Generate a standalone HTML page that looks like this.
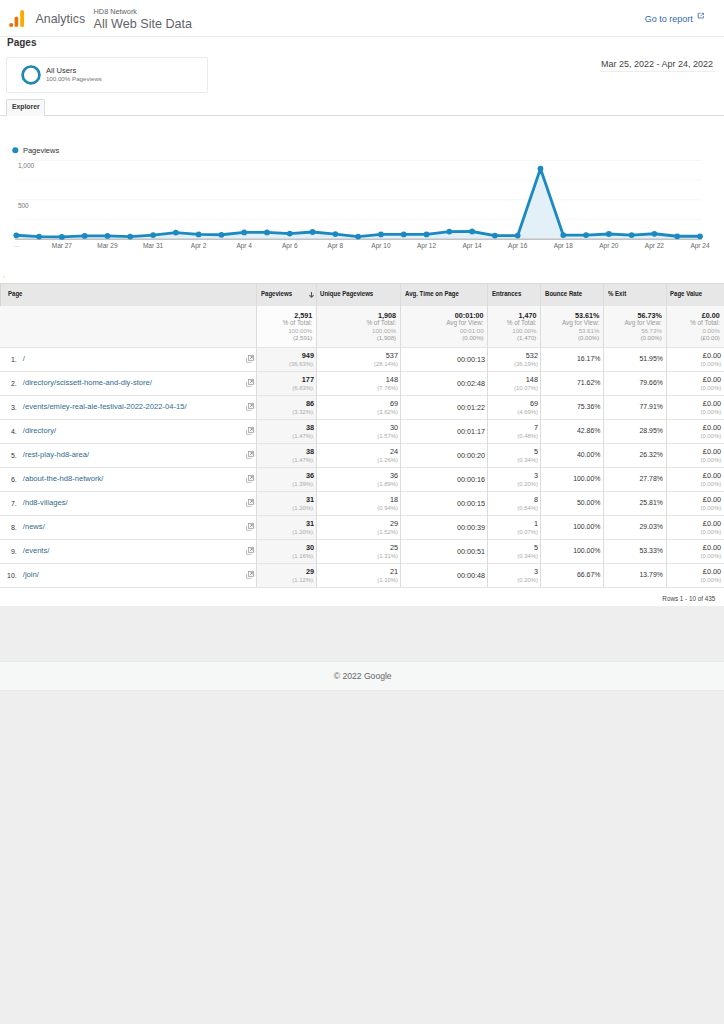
<!DOCTYPE html><html><head><meta charset="utf-8"><title>Analytics</title><style>
*{margin:0;padding:0;box-sizing:border-box}
html,body{width:724px;height:1024px;overflow:hidden;background:#eeeeee;font-family:"Liberation Sans",sans-serif;color:#333}
.t{position:absolute;white-space:nowrap;line-height:1}
.r{position:absolute}
</style></head><body>
<div class="r" style="left:0;top:0;width:724px;height:606px;background:#fff"></div>
<div class="r" style="left:0;top:36px;width:724px;height:1px;background:#e9e9e9"></div>
<svg class="r" style="left:0;top:0" width="30" height="30" viewBox="0 0 30 30">
<circle cx="11.2" cy="25" r="2.1" fill="#e8710a"/>
<rect x="14.6" y="16.4" width="3.6" height="10.7" rx="1.8" fill="#e8710a"/>
<rect x="20.2" y="10" width="3.9" height="17.1" rx="1.95" fill="#f9ab00"/>
</svg>
<div class="t" style="left:35.50px;top:13.10px;font-size:12.4px;color:#5f6368;">Analytics</div>
<div class="t" style="left:93.60px;top:7.82px;font-size:7.3px;color:#5f6368;">HD8 Network</div>
<div class="t" style="left:93.60px;top:17.53px;font-size:12.6px;color:#5f6368;">All Web Site Data</div>
<div class="t" style="left:644.70px;top:14.68px;font-size:9px;color:#3569ab;">Go to report</div>
<svg class="r" style="left:697px;top:12px" width="8" height="7" viewBox="0 0 8 7">
<path d="M1.5 1.2 H3.5 M1.2 1.2 V6 H6.3 V4" stroke="#4a76ad" stroke-width="0.9" fill="none"/>
<path d="M4.5 1.2 H6.5 V3.2 M6.5 1.2 L3.5 4.2" stroke="#4a76ad" stroke-width="0.8" fill="none"/>
</svg>
<div class="t" style="left:7.00px;top:38.44px;font-size:10px;color:#333;font-weight:bold;">Pages</div>
<div class="r" style="left:6px;top:57px;width:201.5px;height:36px;border:1px solid #ebebeb;border-radius:2px;background:#fff"></div>
<svg class="r" style="left:20px;top:64px" width="22" height="22" viewBox="0 0 22 22"><circle cx="11" cy="10.9" r="8.4" stroke="#1f86b5" stroke-width="2.7" fill="none"/></svg>
<div class="t" style="left:45.90px;top:66.77px;font-size:7.6px;color:#333;">All Users</div>
<div class="t" style="left:45.90px;top:76.25px;font-size:6.2px;color:#777;">100.00% Pageviews</div>
<div class="t" style="left:600.90px;top:60.28px;font-size:9px;color:#444;">Mar 25, 2022 - Apr 24, 2022</div>
<div class="r" style="left:600px;top:70.5px;width:115px;height:1px;background:#eeeeee"></div>
<div class="r" style="left:0;top:115px;width:724px;height:1px;background:#dcdcdc"></div>
<div class="r" style="left:6px;top:98.5px;width:39px;height:17.5px;border:1px solid #dcdcdc;border-bottom:none;background:#f8f8f8;border-radius:2px 2px 0 0"></div>
<div class="t" style="left:12.00px;top:104.24px;font-size:6.8px;color:#333;font-weight:bold;">Explorer</div>
<svg class="r" style="left:0;top:0" width="724" height="283" viewBox="0 0 724 283"><line x1="16" y1="160.4" x2="702" y2="160.4" stroke="#f6f6f6" stroke-width="1"/><line x1="16" y1="180.1" x2="702" y2="180.1" stroke="#f6f6f6" stroke-width="1"/><line x1="16" y1="199.8" x2="702" y2="199.8" stroke="#f6f6f6" stroke-width="1"/><line x1="16" y1="219.5" x2="702" y2="219.5" stroke="#f6f6f6" stroke-width="1"/><polygon points="16.30,239.2 16.30,235.30 39.09,236.60 61.88,236.90 84.67,235.90 107.46,235.90 130.25,236.60 153.04,235.10 175.83,232.60 198.62,234.40 221.41,234.80 244.20,232.40 266.99,232.40 289.78,233.60 312.57,232.00 335.36,234.10 358.15,236.60 380.94,234.40 403.73,234.40 426.52,234.40 449.31,231.60 472.10,231.50 494.89,235.60 517.68,235.60 540.47,168.60 563.26,235.10 586.05,235.10 608.84,234.00 631.63,235.10 654.42,233.80 677.21,236.30 700.00,236.30 700.00,239.2" fill="#e3f0f7"/><line x1="15" y1="239.2" x2="702" y2="239.2" stroke="#a8a8a8" stroke-width="1"/><polyline points="16.30,235.30 39.09,236.60 61.88,236.90 84.67,235.90 107.46,235.90 130.25,236.60 153.04,235.10 175.83,232.60 198.62,234.40 221.41,234.80 244.20,232.40 266.99,232.40 289.78,233.60 312.57,232.00 335.36,234.10 358.15,236.60 380.94,234.40 403.73,234.40 426.52,234.40 449.31,231.60 472.10,231.50 494.89,235.60 517.68,235.60 540.47,168.60 563.26,235.10 586.05,235.10 608.84,234.00 631.63,235.10 654.42,233.80 677.21,236.30 700.00,236.30" fill="none" stroke="#1b8ac0" stroke-width="2.9" stroke-linejoin="round"/><circle cx="16.30" cy="235.30" r="2.9" fill="#1b8ac0"/><circle cx="39.09" cy="236.60" r="2.9" fill="#1b8ac0"/><circle cx="61.88" cy="236.90" r="2.9" fill="#1b8ac0"/><circle cx="84.67" cy="235.90" r="2.9" fill="#1b8ac0"/><circle cx="107.46" cy="235.90" r="2.9" fill="#1b8ac0"/><circle cx="130.25" cy="236.60" r="2.9" fill="#1b8ac0"/><circle cx="153.04" cy="235.10" r="2.9" fill="#1b8ac0"/><circle cx="175.83" cy="232.60" r="2.9" fill="#1b8ac0"/><circle cx="198.62" cy="234.40" r="2.9" fill="#1b8ac0"/><circle cx="221.41" cy="234.80" r="2.9" fill="#1b8ac0"/><circle cx="244.20" cy="232.40" r="2.9" fill="#1b8ac0"/><circle cx="266.99" cy="232.40" r="2.9" fill="#1b8ac0"/><circle cx="289.78" cy="233.60" r="2.9" fill="#1b8ac0"/><circle cx="312.57" cy="232.00" r="2.9" fill="#1b8ac0"/><circle cx="335.36" cy="234.10" r="2.9" fill="#1b8ac0"/><circle cx="358.15" cy="236.60" r="2.9" fill="#1b8ac0"/><circle cx="380.94" cy="234.40" r="2.9" fill="#1b8ac0"/><circle cx="403.73" cy="234.40" r="2.9" fill="#1b8ac0"/><circle cx="426.52" cy="234.40" r="2.9" fill="#1b8ac0"/><circle cx="449.31" cy="231.60" r="2.9" fill="#1b8ac0"/><circle cx="472.10" cy="231.50" r="2.9" fill="#1b8ac0"/><circle cx="494.89" cy="235.60" r="2.9" fill="#1b8ac0"/><circle cx="517.68" cy="235.60" r="2.9" fill="#1b8ac0"/><circle cx="540.47" cy="168.60" r="2.9" fill="#1b8ac0"/><circle cx="563.26" cy="235.10" r="2.9" fill="#1b8ac0"/><circle cx="586.05" cy="235.10" r="2.9" fill="#1b8ac0"/><circle cx="608.84" cy="234.00" r="2.9" fill="#1b8ac0"/><circle cx="631.63" cy="235.10" r="2.9" fill="#1b8ac0"/><circle cx="654.42" cy="233.80" r="2.9" fill="#1b8ac0"/><circle cx="677.21" cy="236.30" r="2.9" fill="#1b8ac0"/><circle cx="700.00" cy="236.30" r="2.9" fill="#1b8ac0"/><circle cx="15.3" cy="150.2" r="3" fill="#1b8ac0"/><circle cx="4" cy="277" r="1" fill="#f5e6a0"/></svg>
<div class="t" style="left:22.90px;top:146.85px;font-size:7.5px;color:#333;">Pageviews</div>
<div class="t" style="left:17.90px;top:163.10px;font-size:6.5px;color:#777;">1,000</div>
<div class="t" style="left:17.90px;top:202.70px;font-size:6.5px;color:#777;">500</div>
<div class="t" style="left:21.88px;width:80px;text-align:center;top:242.50px;font-size:6.5px;color:#666">Mar 27</div>
<div class="t" style="left:67.46px;width:80px;text-align:center;top:242.50px;font-size:6.5px;color:#666">Mar 29</div>
<div class="t" style="left:113.04px;width:80px;text-align:center;top:242.50px;font-size:6.5px;color:#666">Mar 31</div>
<div class="t" style="left:158.62px;width:80px;text-align:center;top:242.50px;font-size:6.5px;color:#666">Apr 2</div>
<div class="t" style="left:204.20px;width:80px;text-align:center;top:242.50px;font-size:6.5px;color:#666">Apr 4</div>
<div class="t" style="left:249.78px;width:80px;text-align:center;top:242.50px;font-size:6.5px;color:#666">Apr 6</div>
<div class="t" style="left:295.36px;width:80px;text-align:center;top:242.50px;font-size:6.5px;color:#666">Apr 8</div>
<div class="t" style="left:340.94px;width:80px;text-align:center;top:242.50px;font-size:6.5px;color:#666">Apr 10</div>
<div class="t" style="left:386.52px;width:80px;text-align:center;top:242.50px;font-size:6.5px;color:#666">Apr 12</div>
<div class="t" style="left:432.10px;width:80px;text-align:center;top:242.50px;font-size:6.5px;color:#666">Apr 14</div>
<div class="t" style="left:477.68px;width:80px;text-align:center;top:242.50px;font-size:6.5px;color:#666">Apr 16</div>
<div class="t" style="left:523.26px;width:80px;text-align:center;top:242.50px;font-size:6.5px;color:#666">Apr 18</div>
<div class="t" style="left:568.84px;width:80px;text-align:center;top:242.50px;font-size:6.5px;color:#666">Apr 20</div>
<div class="t" style="left:614.42px;width:80px;text-align:center;top:242.50px;font-size:6.5px;color:#666">Apr 22</div>
<div class="t" style="left:660.00px;width:80px;text-align:center;top:242.50px;font-size:6.5px;color:#666">Apr 24</div>
<div class="t" style="left:14.00px;top:242.00px;font-size:6.5px;color:#aaa;">...</div>
<div class="r" style="left:0;top:283.0px;width:724px;height:22.80000000000001px;background:#e7e7e7;border-top:1px solid #d9d9d9"></div>
<div class="r" style="left:0;top:305.8px;width:724px;height:41.80000000000001px;background:#f7f7f7"></div>
<div class="r" style="left:256.7px;top:305.8px;width:59.69999999999999px;height:41.80000000000001px;background:#fcfcfc"></div>
<div class="r" style="left:256.7px;top:347.6px;width:59.69999999999999px;height:239.8px;background:#f6f6f6"></div>
<div class="r" style="left:0;top:347.10px;width:724px;height:1px;background:#e4e4e4"></div>
<div class="r" style="left:0;top:371.08px;width:724px;height:1px;background:#e4e4e4"></div>
<div class="r" style="left:0;top:395.06px;width:724px;height:1px;background:#e4e4e4"></div>
<div class="r" style="left:0;top:419.04px;width:724px;height:1px;background:#e4e4e4"></div>
<div class="r" style="left:0;top:443.02px;width:724px;height:1px;background:#e4e4e4"></div>
<div class="r" style="left:0;top:467.00px;width:724px;height:1px;background:#e4e4e4"></div>
<div class="r" style="left:0;top:490.98px;width:724px;height:1px;background:#e4e4e4"></div>
<div class="r" style="left:0;top:514.96px;width:724px;height:1px;background:#e4e4e4"></div>
<div class="r" style="left:0;top:538.94px;width:724px;height:1px;background:#e4e4e4"></div>
<div class="r" style="left:0;top:562.92px;width:724px;height:1px;background:#e4e4e4"></div>
<div class="r" style="left:0;top:586.90px;width:724px;height:1px;background:#e4e4e4"></div>
<div class="r" style="left:256.20px;top:283.0px;width:1px;height:304.40px;background:#dcdcdc"></div>
<div class="r" style="left:315.90px;top:283.0px;width:1px;height:304.40px;background:#dcdcdc"></div>
<div class="r" style="left:399.80px;top:283.0px;width:1px;height:304.40px;background:#dcdcdc"></div>
<div class="r" style="left:487.30px;top:283.0px;width:1px;height:304.40px;background:#dcdcdc"></div>
<div class="r" style="left:540.10px;top:283.0px;width:1px;height:304.40px;background:#dcdcdc"></div>
<div class="r" style="left:603.00px;top:283.0px;width:1px;height:304.40px;background:#dcdcdc"></div>
<div class="r" style="left:665.50px;top:283.0px;width:1px;height:304.40px;background:#dcdcdc"></div>
<div class="r" style="left:0;top:283.0px;width:1px;height:22.80000000000001px;background:#d5d5d5"></div>
<div class="t" style="left:7.6px;top:291.06px;font-size:6.9px;font-weight:bold;color:#222;transform:scaleX(0.88);transform-origin:0 0">Page</div>
<div class="t" style="left:260.6px;top:291.06px;font-size:6.9px;font-weight:bold;color:#222;transform:scaleX(0.88);transform-origin:0 0">Pageviews</div>
<div class="t" style="left:320px;top:291.06px;font-size:6.9px;font-weight:bold;color:#222;transform:scaleX(0.88);transform-origin:0 0">Unique Pageviews</div>
<div class="t" style="left:404.9px;top:291.06px;font-size:6.9px;font-weight:bold;color:#222;transform:scaleX(0.88);transform-origin:0 0">Avg. Time on Page</div>
<div class="t" style="left:492px;top:291.06px;font-size:6.9px;font-weight:bold;color:#222;transform:scaleX(0.88);transform-origin:0 0">Entrances</div>
<div class="t" style="left:544.6px;top:291.06px;font-size:6.9px;font-weight:bold;color:#222;transform:scaleX(0.88);transform-origin:0 0">Bounce Rate</div>
<div class="t" style="left:608.1px;top:291.06px;font-size:6.9px;font-weight:bold;color:#222;transform:scaleX(0.88);transform-origin:0 0">% Exit</div>
<div class="t" style="left:669.6px;top:291.06px;font-size:6.9px;font-weight:bold;color:#222;transform:scaleX(0.88);transform-origin:0 0">Page Value</div>
<svg class="r" style="left:308px;top:290px" width="7" height="9" viewBox="0 0 7 9"><path d="M3.5 2 V7.4 M1.4 5.1 L3.5 7.3 L5.6 5.1" stroke="#555" stroke-width="1.1" fill="none"/></svg>
<div class="t" style="right:411.80px;top:311.71px;font-size:7.2px;color:#222;font-weight:bold;">2,591</div>
<div class="t" style="right:411.80px;top:320.28px;font-size:6.4px;color:#999;">% of Total:</div>
<div class="t" style="right:411.80px;top:328.04px;font-size:6.1px;color:#aaa;">100.00%</div>
<div class="t" style="right:411.80px;top:334.64px;font-size:6.1px;color:#999;">(2,591)</div>
<div class="t" style="right:327.90px;top:311.71px;font-size:7.2px;color:#222;font-weight:bold;">1,908</div>
<div class="t" style="right:327.90px;top:320.28px;font-size:6.4px;color:#999;">% of Total:</div>
<div class="t" style="right:327.90px;top:328.04px;font-size:6.1px;color:#aaa;">100.00%</div>
<div class="t" style="right:327.90px;top:334.64px;font-size:6.1px;color:#999;">(1,908)</div>
<div class="t" style="right:240.40px;top:311.71px;font-size:7.2px;color:#222;font-weight:bold;">00:01:00</div>
<div class="t" style="right:240.40px;top:320.28px;font-size:6.4px;color:#999;">Avg for View:</div>
<div class="t" style="right:240.40px;top:328.04px;font-size:6.1px;color:#aaa;">00:01:00</div>
<div class="t" style="right:240.40px;top:334.64px;font-size:6.1px;color:#999;">(0.00%)</div>
<div class="t" style="right:187.60px;top:311.71px;font-size:7.2px;color:#222;font-weight:bold;">1,470</div>
<div class="t" style="right:187.60px;top:320.28px;font-size:6.4px;color:#999;">% of Total:</div>
<div class="t" style="right:187.60px;top:328.04px;font-size:6.1px;color:#aaa;">100.00%</div>
<div class="t" style="right:187.60px;top:334.64px;font-size:6.1px;color:#999;">(1,470)</div>
<div class="t" style="right:124.70px;top:311.71px;font-size:7.2px;color:#222;font-weight:bold;">53.61%</div>
<div class="t" style="right:124.70px;top:320.28px;font-size:6.4px;color:#999;">Avg for View:</div>
<div class="t" style="right:124.70px;top:328.04px;font-size:6.1px;color:#aaa;">53.61%</div>
<div class="t" style="right:124.70px;top:334.64px;font-size:6.1px;color:#999;">(0.00%)</div>
<div class="t" style="right:62.20px;top:311.71px;font-size:7.2px;color:#222;font-weight:bold;">56.73%</div>
<div class="t" style="right:62.20px;top:320.28px;font-size:6.4px;color:#999;">Avg for View:</div>
<div class="t" style="right:62.20px;top:328.04px;font-size:6.1px;color:#aaa;">56.73%</div>
<div class="t" style="right:62.20px;top:334.64px;font-size:6.1px;color:#999;">(0.00%)</div>
<div class="t" style="right:4.20px;top:311.71px;font-size:7.2px;color:#222;font-weight:bold;">£0.00</div>
<div class="t" style="right:4.20px;top:320.28px;font-size:6.4px;color:#999;">% of Total:</div>
<div class="t" style="right:4.20px;top:328.04px;font-size:6.1px;color:#aaa;">0.00%</div>
<div class="t" style="right:4.20px;top:334.64px;font-size:6.1px;color:#999;">(£0.00)</div>
<div class="t" style="right:707.20px;top:355.77px;font-size:7px;color:#333;">1.</div>
<div class="t" style="left:22.80px;top:355.27px;font-size:7.6px;color:#306a8e;">/</div>
<svg class="r" style="left:246.3px;top:355.20px" width="8" height="8" viewBox="0 0 8 8"><path d="M0.6 2.6 V7.4 H5.4" stroke="#b0b0b0" stroke-width="0.8" fill="none"/><rect x="2.4" y="0.5" width="5" height="5" stroke="#a0a0a0" stroke-width="0.8" fill="#fff"/><path d="M3.8 4.2 L6.3 1.6 M4.4 1.6 H6.3 V3.5" stroke="#888" stroke-width="0.8" fill="none"/></svg>
<div class="t" style="right:410.00px;top:352.22px;font-size:7.3px;color:#222;font-weight:bold;">949</div>
<div class="t" style="right:411.10px;top:361.81px;font-size:5.9px;color:#aaa;">(36.63%)</div>
<div class="t" style="right:326.00px;top:352.22px;font-size:7.3px;color:#333;">537</div>
<div class="t" style="right:326.10px;top:361.81px;font-size:5.9px;color:#aaa;">(28.14%)</div>
<div class="t" style="right:239.00px;top:355.71px;font-size:7.2px;color:#333;">00:00:13</div>
<div class="t" style="right:186.00px;top:352.22px;font-size:7.3px;color:#333;">532</div>
<div class="t" style="right:186.00px;top:361.81px;font-size:5.9px;color:#aaa;">(36.19%)</div>
<div class="t" style="right:123.60px;top:355.96px;font-size:6.9px;color:#333;">16.17%</div>
<div class="t" style="right:61.10px;top:355.96px;font-size:6.9px;color:#333;">51.95%</div>
<div class="t" style="right:2.90px;top:352.22px;font-size:7.3px;color:#333;">£0.00</div>
<div class="t" style="right:2.90px;top:361.81px;font-size:5.9px;color:#aaa;">(0.00%)</div>
<div class="t" style="right:707.20px;top:379.75px;font-size:7px;color:#333;">2.</div>
<div class="t" style="left:22.80px;top:379.25px;font-size:7.6px;color:#306a8e;">/directory/scissett-home-and-diy-store/</div>
<svg class="r" style="left:246.3px;top:379.18px" width="8" height="8" viewBox="0 0 8 8"><path d="M0.6 2.6 V7.4 H5.4" stroke="#b0b0b0" stroke-width="0.8" fill="none"/><rect x="2.4" y="0.5" width="5" height="5" stroke="#a0a0a0" stroke-width="0.8" fill="#fff"/><path d="M3.8 4.2 L6.3 1.6 M4.4 1.6 H6.3 V3.5" stroke="#888" stroke-width="0.8" fill="none"/></svg>
<div class="t" style="right:410.00px;top:376.20px;font-size:7.3px;color:#222;font-weight:bold;">177</div>
<div class="t" style="right:411.10px;top:385.79px;font-size:5.9px;color:#aaa;">(6.83%)</div>
<div class="t" style="right:326.00px;top:376.20px;font-size:7.3px;color:#333;">148</div>
<div class="t" style="right:326.10px;top:385.79px;font-size:5.9px;color:#aaa;">(7.76%)</div>
<div class="t" style="right:239.00px;top:379.69px;font-size:7.2px;color:#333;">00:02:48</div>
<div class="t" style="right:186.00px;top:376.20px;font-size:7.3px;color:#333;">148</div>
<div class="t" style="right:186.00px;top:385.79px;font-size:5.9px;color:#aaa;">(10.07%)</div>
<div class="t" style="right:123.60px;top:379.94px;font-size:6.9px;color:#333;">71.62%</div>
<div class="t" style="right:61.10px;top:379.94px;font-size:6.9px;color:#333;">79.66%</div>
<div class="t" style="right:2.90px;top:376.20px;font-size:7.3px;color:#333;">£0.00</div>
<div class="t" style="right:2.90px;top:385.79px;font-size:5.9px;color:#aaa;">(0.00%)</div>
<div class="t" style="right:707.20px;top:403.73px;font-size:7px;color:#333;">3.</div>
<div class="t" style="left:22.80px;top:403.23px;font-size:7.6px;color:#306a8e;">/events/emley-real-ale-festival-2022-2022-04-15/</div>
<svg class="r" style="left:246.3px;top:403.16px" width="8" height="8" viewBox="0 0 8 8"><path d="M0.6 2.6 V7.4 H5.4" stroke="#b0b0b0" stroke-width="0.8" fill="none"/><rect x="2.4" y="0.5" width="5" height="5" stroke="#a0a0a0" stroke-width="0.8" fill="#fff"/><path d="M3.8 4.2 L6.3 1.6 M4.4 1.6 H6.3 V3.5" stroke="#888" stroke-width="0.8" fill="none"/></svg>
<div class="t" style="right:410.00px;top:400.18px;font-size:7.3px;color:#222;font-weight:bold;">86</div>
<div class="t" style="right:411.10px;top:409.77px;font-size:5.9px;color:#aaa;">(3.32%)</div>
<div class="t" style="right:326.00px;top:400.18px;font-size:7.3px;color:#333;">69</div>
<div class="t" style="right:326.10px;top:409.77px;font-size:5.9px;color:#aaa;">(3.62%)</div>
<div class="t" style="right:239.00px;top:403.67px;font-size:7.2px;color:#333;">00:01:22</div>
<div class="t" style="right:186.00px;top:400.18px;font-size:7.3px;color:#333;">69</div>
<div class="t" style="right:186.00px;top:409.77px;font-size:5.9px;color:#aaa;">(4.69%)</div>
<div class="t" style="right:123.60px;top:403.92px;font-size:6.9px;color:#333;">75.36%</div>
<div class="t" style="right:61.10px;top:403.92px;font-size:6.9px;color:#333;">77.91%</div>
<div class="t" style="right:2.90px;top:400.18px;font-size:7.3px;color:#333;">£0.00</div>
<div class="t" style="right:2.90px;top:409.77px;font-size:5.9px;color:#aaa;">(0.00%)</div>
<div class="t" style="right:707.20px;top:427.71px;font-size:7px;color:#333;">4.</div>
<div class="t" style="left:22.80px;top:427.21px;font-size:7.6px;color:#306a8e;">/directory/</div>
<svg class="r" style="left:246.3px;top:427.14px" width="8" height="8" viewBox="0 0 8 8"><path d="M0.6 2.6 V7.4 H5.4" stroke="#b0b0b0" stroke-width="0.8" fill="none"/><rect x="2.4" y="0.5" width="5" height="5" stroke="#a0a0a0" stroke-width="0.8" fill="#fff"/><path d="M3.8 4.2 L6.3 1.6 M4.4 1.6 H6.3 V3.5" stroke="#888" stroke-width="0.8" fill="none"/></svg>
<div class="t" style="right:410.00px;top:424.16px;font-size:7.3px;color:#222;font-weight:bold;">38</div>
<div class="t" style="right:411.10px;top:433.75px;font-size:5.9px;color:#aaa;">(1.47%)</div>
<div class="t" style="right:326.00px;top:424.16px;font-size:7.3px;color:#333;">30</div>
<div class="t" style="right:326.10px;top:433.75px;font-size:5.9px;color:#aaa;">(1.57%)</div>
<div class="t" style="right:239.00px;top:427.65px;font-size:7.2px;color:#333;">00:01:17</div>
<div class="t" style="right:186.00px;top:424.16px;font-size:7.3px;color:#333;">7</div>
<div class="t" style="right:186.00px;top:433.75px;font-size:5.9px;color:#aaa;">(0.48%)</div>
<div class="t" style="right:123.60px;top:427.90px;font-size:6.9px;color:#333;">42.86%</div>
<div class="t" style="right:61.10px;top:427.90px;font-size:6.9px;color:#333;">28.95%</div>
<div class="t" style="right:2.90px;top:424.16px;font-size:7.3px;color:#333;">£0.00</div>
<div class="t" style="right:2.90px;top:433.75px;font-size:5.9px;color:#aaa;">(0.00%)</div>
<div class="t" style="right:707.20px;top:451.69px;font-size:7px;color:#333;">5.</div>
<div class="t" style="left:22.80px;top:451.19px;font-size:7.6px;color:#306a8e;">/rest-play-hd8-area/</div>
<svg class="r" style="left:246.3px;top:451.12px" width="8" height="8" viewBox="0 0 8 8"><path d="M0.6 2.6 V7.4 H5.4" stroke="#b0b0b0" stroke-width="0.8" fill="none"/><rect x="2.4" y="0.5" width="5" height="5" stroke="#a0a0a0" stroke-width="0.8" fill="#fff"/><path d="M3.8 4.2 L6.3 1.6 M4.4 1.6 H6.3 V3.5" stroke="#888" stroke-width="0.8" fill="none"/></svg>
<div class="t" style="right:410.00px;top:448.14px;font-size:7.3px;color:#222;font-weight:bold;">38</div>
<div class="t" style="right:411.10px;top:457.73px;font-size:5.9px;color:#aaa;">(1.47%)</div>
<div class="t" style="right:326.00px;top:448.14px;font-size:7.3px;color:#333;">24</div>
<div class="t" style="right:326.10px;top:457.73px;font-size:5.9px;color:#aaa;">(1.26%)</div>
<div class="t" style="right:239.00px;top:451.63px;font-size:7.2px;color:#333;">00:00:20</div>
<div class="t" style="right:186.00px;top:448.14px;font-size:7.3px;color:#333;">5</div>
<div class="t" style="right:186.00px;top:457.73px;font-size:5.9px;color:#aaa;">(0.34%)</div>
<div class="t" style="right:123.60px;top:451.88px;font-size:6.9px;color:#333;">40.00%</div>
<div class="t" style="right:61.10px;top:451.88px;font-size:6.9px;color:#333;">26.32%</div>
<div class="t" style="right:2.90px;top:448.14px;font-size:7.3px;color:#333;">£0.00</div>
<div class="t" style="right:2.90px;top:457.73px;font-size:5.9px;color:#aaa;">(0.00%)</div>
<div class="t" style="right:707.20px;top:475.67px;font-size:7px;color:#333;">6.</div>
<div class="t" style="left:22.80px;top:475.17px;font-size:7.6px;color:#306a8e;">/about-the-hd8-network/</div>
<svg class="r" style="left:246.3px;top:475.10px" width="8" height="8" viewBox="0 0 8 8"><path d="M0.6 2.6 V7.4 H5.4" stroke="#b0b0b0" stroke-width="0.8" fill="none"/><rect x="2.4" y="0.5" width="5" height="5" stroke="#a0a0a0" stroke-width="0.8" fill="#fff"/><path d="M3.8 4.2 L6.3 1.6 M4.4 1.6 H6.3 V3.5" stroke="#888" stroke-width="0.8" fill="none"/></svg>
<div class="t" style="right:410.00px;top:472.12px;font-size:7.3px;color:#222;font-weight:bold;">36</div>
<div class="t" style="right:411.10px;top:481.71px;font-size:5.9px;color:#aaa;">(1.39%)</div>
<div class="t" style="right:326.00px;top:472.12px;font-size:7.3px;color:#333;">36</div>
<div class="t" style="right:326.10px;top:481.71px;font-size:5.9px;color:#aaa;">(1.89%)</div>
<div class="t" style="right:239.00px;top:475.61px;font-size:7.2px;color:#333;">00:00:16</div>
<div class="t" style="right:186.00px;top:472.12px;font-size:7.3px;color:#333;">3</div>
<div class="t" style="right:186.00px;top:481.71px;font-size:5.9px;color:#aaa;">(0.20%)</div>
<div class="t" style="right:123.60px;top:475.86px;font-size:6.9px;color:#333;">100.00%</div>
<div class="t" style="right:61.10px;top:475.86px;font-size:6.9px;color:#333;">27.78%</div>
<div class="t" style="right:2.90px;top:472.12px;font-size:7.3px;color:#333;">£0.00</div>
<div class="t" style="right:2.90px;top:481.71px;font-size:5.9px;color:#aaa;">(0.00%)</div>
<div class="t" style="right:707.20px;top:499.65px;font-size:7px;color:#333;">7.</div>
<div class="t" style="left:22.80px;top:499.15px;font-size:7.6px;color:#306a8e;">/hd8-villages/</div>
<svg class="r" style="left:246.3px;top:499.08px" width="8" height="8" viewBox="0 0 8 8"><path d="M0.6 2.6 V7.4 H5.4" stroke="#b0b0b0" stroke-width="0.8" fill="none"/><rect x="2.4" y="0.5" width="5" height="5" stroke="#a0a0a0" stroke-width="0.8" fill="#fff"/><path d="M3.8 4.2 L6.3 1.6 M4.4 1.6 H6.3 V3.5" stroke="#888" stroke-width="0.8" fill="none"/></svg>
<div class="t" style="right:410.00px;top:496.10px;font-size:7.3px;color:#222;font-weight:bold;">31</div>
<div class="t" style="right:411.10px;top:505.69px;font-size:5.9px;color:#aaa;">(1.20%)</div>
<div class="t" style="right:326.00px;top:496.10px;font-size:7.3px;color:#333;">18</div>
<div class="t" style="right:326.10px;top:505.69px;font-size:5.9px;color:#aaa;">(0.94%)</div>
<div class="t" style="right:239.00px;top:499.59px;font-size:7.2px;color:#333;">00:00:15</div>
<div class="t" style="right:186.00px;top:496.10px;font-size:7.3px;color:#333;">8</div>
<div class="t" style="right:186.00px;top:505.69px;font-size:5.9px;color:#aaa;">(0.54%)</div>
<div class="t" style="right:123.60px;top:499.84px;font-size:6.9px;color:#333;">50.00%</div>
<div class="t" style="right:61.10px;top:499.84px;font-size:6.9px;color:#333;">25.81%</div>
<div class="t" style="right:2.90px;top:496.10px;font-size:7.3px;color:#333;">£0.00</div>
<div class="t" style="right:2.90px;top:505.69px;font-size:5.9px;color:#aaa;">(0.00%)</div>
<div class="t" style="right:707.20px;top:523.63px;font-size:7px;color:#333;">8.</div>
<div class="t" style="left:22.80px;top:523.13px;font-size:7.6px;color:#306a8e;">/news/</div>
<svg class="r" style="left:246.3px;top:523.06px" width="8" height="8" viewBox="0 0 8 8"><path d="M0.6 2.6 V7.4 H5.4" stroke="#b0b0b0" stroke-width="0.8" fill="none"/><rect x="2.4" y="0.5" width="5" height="5" stroke="#a0a0a0" stroke-width="0.8" fill="#fff"/><path d="M3.8 4.2 L6.3 1.6 M4.4 1.6 H6.3 V3.5" stroke="#888" stroke-width="0.8" fill="none"/></svg>
<div class="t" style="right:410.00px;top:520.08px;font-size:7.3px;color:#222;font-weight:bold;">31</div>
<div class="t" style="right:411.10px;top:529.67px;font-size:5.9px;color:#aaa;">(1.20%)</div>
<div class="t" style="right:326.00px;top:520.08px;font-size:7.3px;color:#333;">29</div>
<div class="t" style="right:326.10px;top:529.67px;font-size:5.9px;color:#aaa;">(1.52%)</div>
<div class="t" style="right:239.00px;top:523.57px;font-size:7.2px;color:#333;">00:00:39</div>
<div class="t" style="right:186.00px;top:520.08px;font-size:7.3px;color:#333;">1</div>
<div class="t" style="right:186.00px;top:529.67px;font-size:5.9px;color:#aaa;">(0.07%)</div>
<div class="t" style="right:123.60px;top:523.82px;font-size:6.9px;color:#333;">100.00%</div>
<div class="t" style="right:61.10px;top:523.82px;font-size:6.9px;color:#333;">29.03%</div>
<div class="t" style="right:2.90px;top:520.08px;font-size:7.3px;color:#333;">£0.00</div>
<div class="t" style="right:2.90px;top:529.67px;font-size:5.9px;color:#aaa;">(0.00%)</div>
<div class="t" style="right:707.20px;top:547.61px;font-size:7px;color:#333;">9.</div>
<div class="t" style="left:22.80px;top:547.11px;font-size:7.6px;color:#306a8e;">/events/</div>
<svg class="r" style="left:246.3px;top:547.04px" width="8" height="8" viewBox="0 0 8 8"><path d="M0.6 2.6 V7.4 H5.4" stroke="#b0b0b0" stroke-width="0.8" fill="none"/><rect x="2.4" y="0.5" width="5" height="5" stroke="#a0a0a0" stroke-width="0.8" fill="#fff"/><path d="M3.8 4.2 L6.3 1.6 M4.4 1.6 H6.3 V3.5" stroke="#888" stroke-width="0.8" fill="none"/></svg>
<div class="t" style="right:410.00px;top:544.06px;font-size:7.3px;color:#222;font-weight:bold;">30</div>
<div class="t" style="right:411.10px;top:553.65px;font-size:5.9px;color:#aaa;">(1.16%)</div>
<div class="t" style="right:326.00px;top:544.06px;font-size:7.3px;color:#333;">25</div>
<div class="t" style="right:326.10px;top:553.65px;font-size:5.9px;color:#aaa;">(1.31%)</div>
<div class="t" style="right:239.00px;top:547.55px;font-size:7.2px;color:#333;">00:00:51</div>
<div class="t" style="right:186.00px;top:544.06px;font-size:7.3px;color:#333;">5</div>
<div class="t" style="right:186.00px;top:553.65px;font-size:5.9px;color:#aaa;">(0.34%)</div>
<div class="t" style="right:123.60px;top:547.80px;font-size:6.9px;color:#333;">100.00%</div>
<div class="t" style="right:61.10px;top:547.80px;font-size:6.9px;color:#333;">53.33%</div>
<div class="t" style="right:2.90px;top:544.06px;font-size:7.3px;color:#333;">£0.00</div>
<div class="t" style="right:2.90px;top:553.65px;font-size:5.9px;color:#aaa;">(0.00%)</div>
<div class="t" style="right:707.20px;top:571.59px;font-size:7px;color:#333;">10.</div>
<div class="t" style="left:22.80px;top:571.09px;font-size:7.6px;color:#306a8e;">/join/</div>
<svg class="r" style="left:246.3px;top:571.02px" width="8" height="8" viewBox="0 0 8 8"><path d="M0.6 2.6 V7.4 H5.4" stroke="#b0b0b0" stroke-width="0.8" fill="none"/><rect x="2.4" y="0.5" width="5" height="5" stroke="#a0a0a0" stroke-width="0.8" fill="#fff"/><path d="M3.8 4.2 L6.3 1.6 M4.4 1.6 H6.3 V3.5" stroke="#888" stroke-width="0.8" fill="none"/></svg>
<div class="t" style="right:410.00px;top:568.04px;font-size:7.3px;color:#222;font-weight:bold;">29</div>
<div class="t" style="right:411.10px;top:577.63px;font-size:5.9px;color:#aaa;">(1.12%)</div>
<div class="t" style="right:326.00px;top:568.04px;font-size:7.3px;color:#333;">21</div>
<div class="t" style="right:326.10px;top:577.63px;font-size:5.9px;color:#aaa;">(1.10%)</div>
<div class="t" style="right:239.00px;top:571.53px;font-size:7.2px;color:#333;">00:00:48</div>
<div class="t" style="right:186.00px;top:568.04px;font-size:7.3px;color:#333;">3</div>
<div class="t" style="right:186.00px;top:577.63px;font-size:5.9px;color:#aaa;">(0.20%)</div>
<div class="t" style="right:123.60px;top:571.78px;font-size:6.9px;color:#333;">66.67%</div>
<div class="t" style="right:61.10px;top:571.78px;font-size:6.9px;color:#333;">13.79%</div>
<div class="t" style="right:2.90px;top:568.04px;font-size:7.3px;color:#333;">£0.00</div>
<div class="t" style="right:2.90px;top:577.63px;font-size:5.9px;color:#aaa;">(0.00%)</div>
<div class="t" style="right:8.80px;top:595.87px;font-size:6.3px;color:#444;">Rows 1 - 10 of 435</div>
<div class="r" style="left:0;top:660.6px;width:724px;height:30px;background:#f6f7f7;border-top:0.6px solid #e9eaea;border-bottom:0.6px solid #e9eaea"></div>
<div class="t" style="left:333.70px;top:672.02px;font-size:8.6px;color:#666;">© 2022 Google</div>
</body></html>
